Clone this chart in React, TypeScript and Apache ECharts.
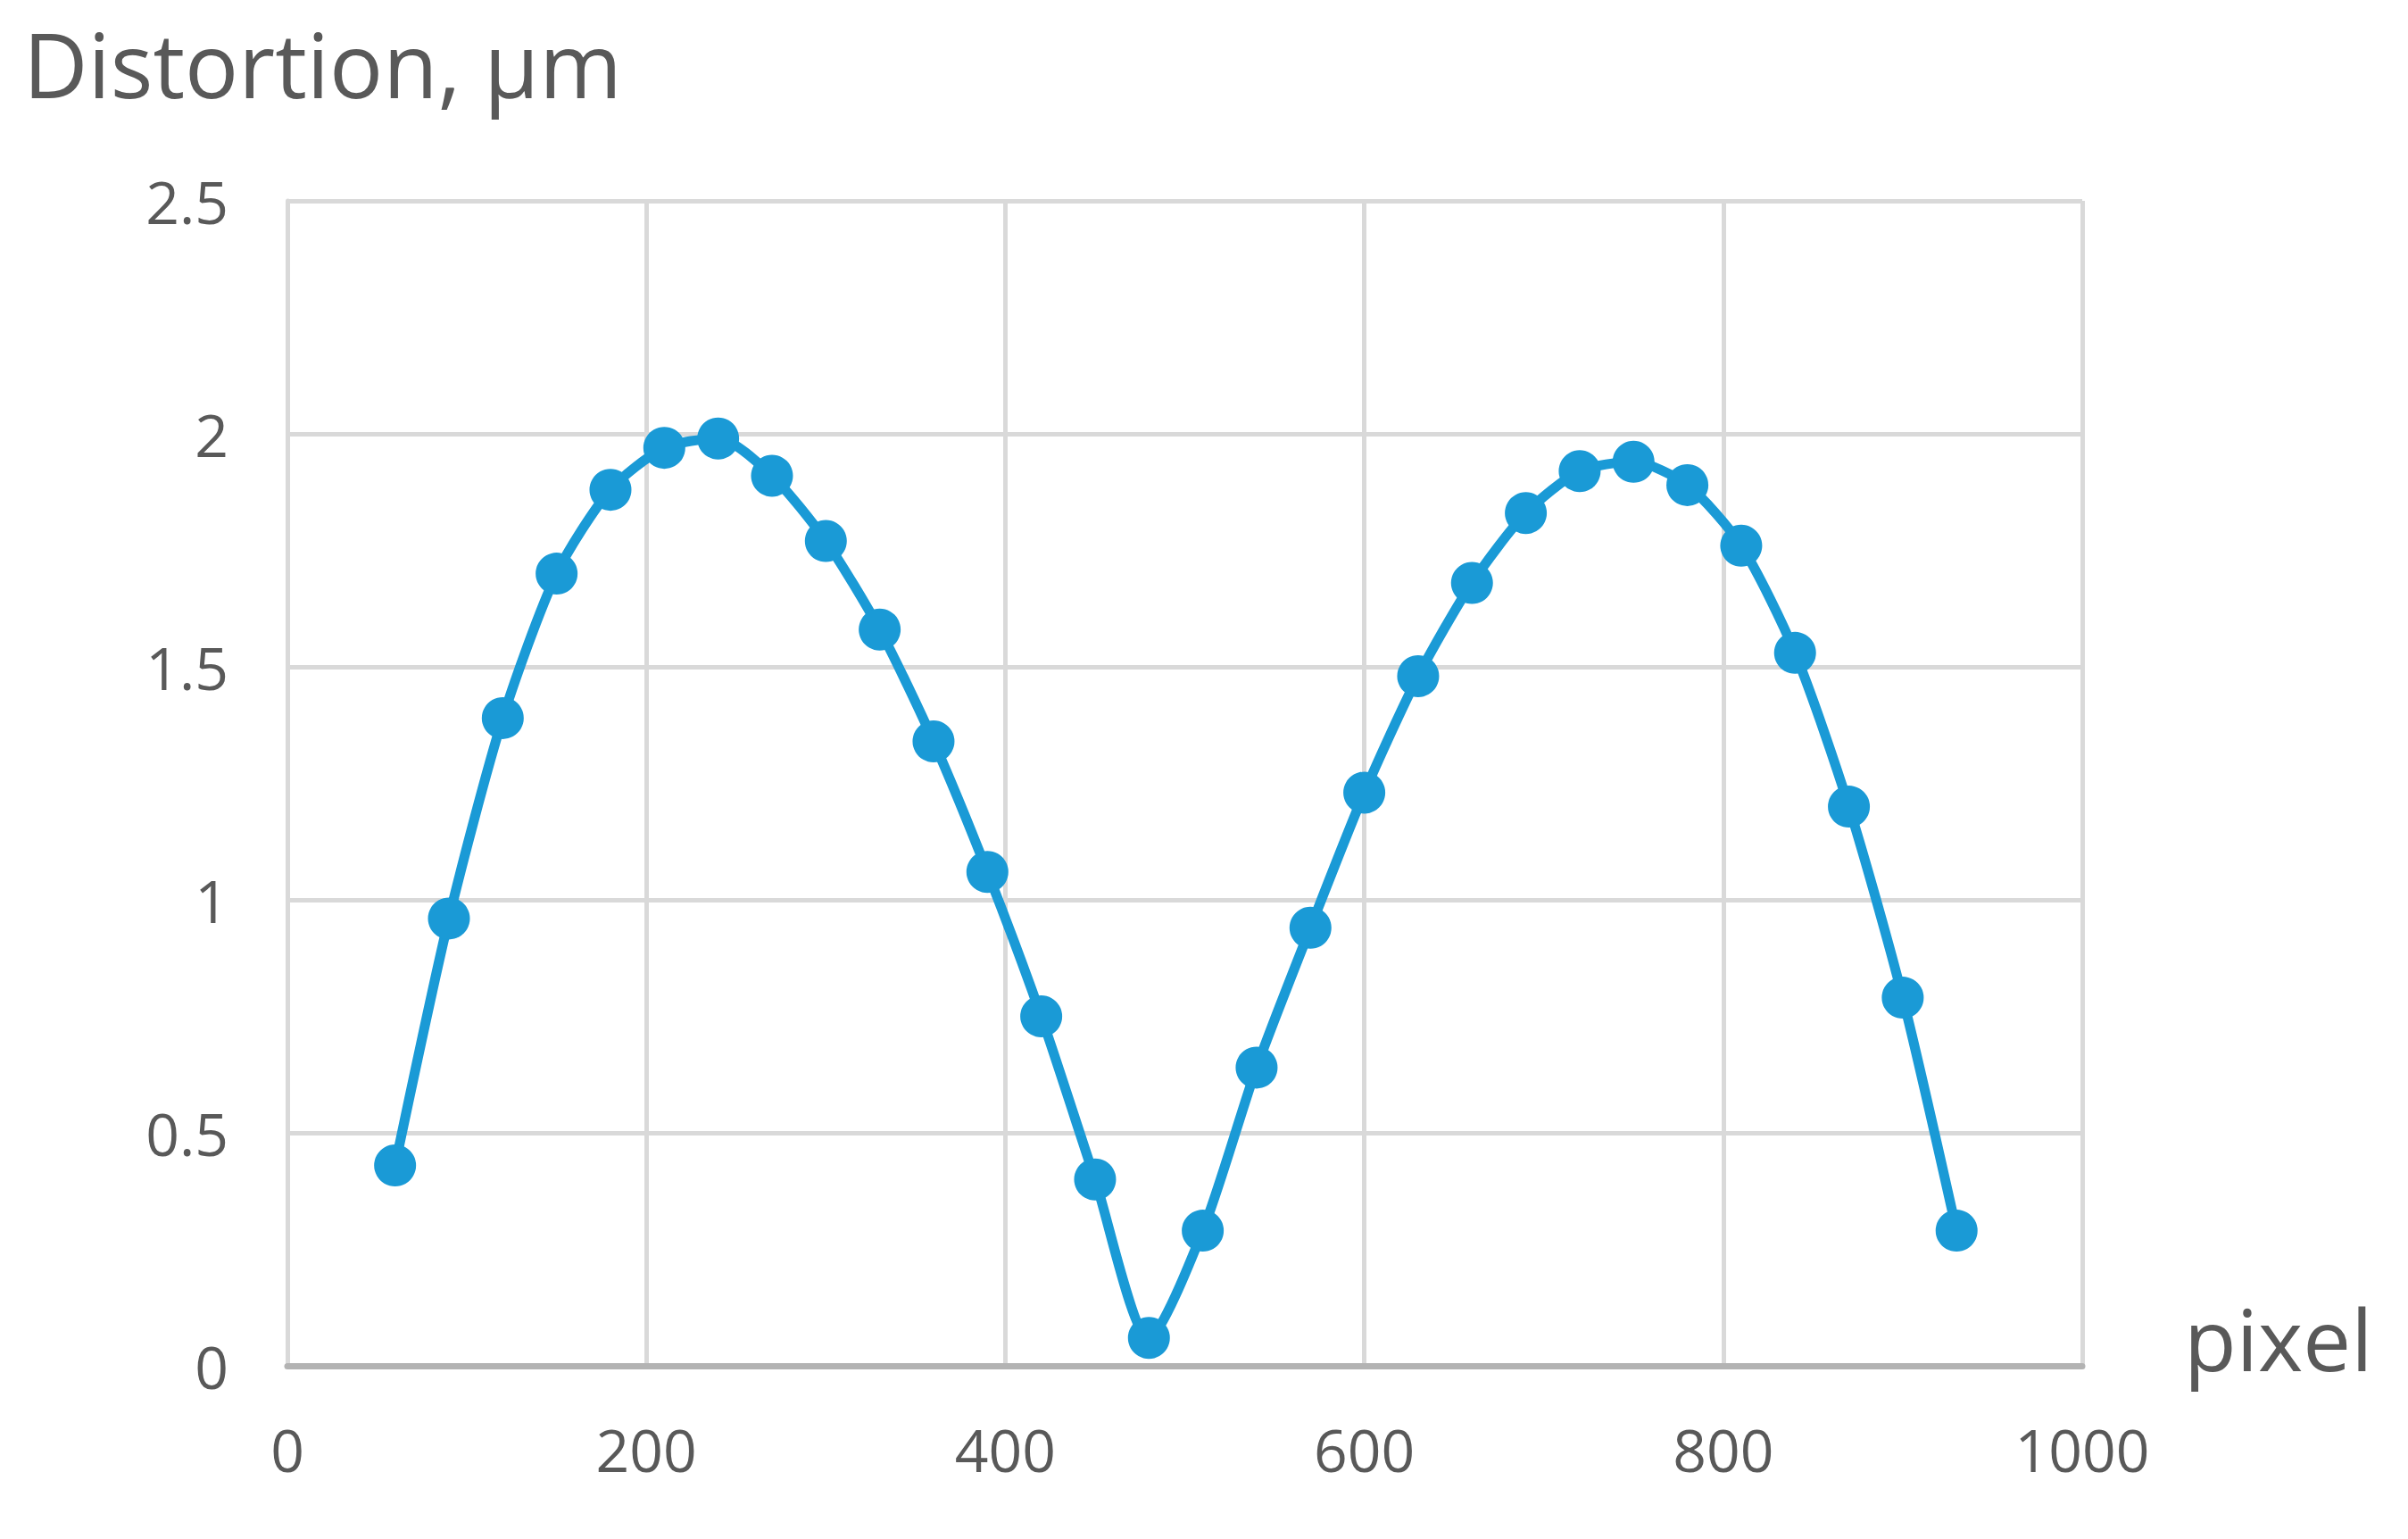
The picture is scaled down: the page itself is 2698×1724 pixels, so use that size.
import React, { useEffect, useRef } from "react";
import * as echarts from "echarts";

const pixels = [60, 90, 120, 150, 180, 210, 240, 270, 300, 330, 360, 390, 420, 450, 480, 510, 540, 570, 600, 630, 660, 690, 720, 750, 780, 810, 840, 870, 900, 930];
const distortion = [0.43, 0.96, 1.39, 1.70, 1.88, 1.97, 1.99, 1.91, 1.77, 1.58, 1.34, 1.06, 0.75, 0.40, 0.06, 0.29, 0.64, 0.94, 1.23, 1.48, 1.68, 1.83, 1.92, 1.94, 1.89, 1.76, 1.53, 1.20, 0.79, 0.29];
const xTicks = { min: 0, max: 1000, interval: 200 };
const yTicks = { min: 0, max: 2.5, interval: 0.5 };
const yTitle = "Distortion, µm";
const xTitle = "pixel";

const FONT = "'Open Sans', 'Noto Sans', sans-serif";
const TEXT = "#595959";
const BLUE = "#1a9ad6";

export default function App() {
  const ref = useRef<HTMLDivElement>(null);
  useEffect(() => {
    document.body.style.margin = "0";
    const chart = echarts.init(ref.current!, null, { renderer: "svg" });
    chart.setOption({
      animation: false,
      backgroundColor: "#ffffff",
      grid: { left: 322, right: 2698 - 2333, top: 225, bottom: 1724 - 1530, containLabel: false },
      xAxis: {
        type: "value",
        min: xTicks.min,
        max: xTicks.max,
        interval: xTicks.interval,
        axisLine: { show: true, lineStyle: { color: "#b3b3b3", width: 7 } },
        axisTick: { show: false },
        axisLabel: { color: TEXT, fontSize: 66, fontFamily: FONT, margin: 60, formatter: (v: number) => String(v) },
        splitLine: { show: true, lineStyle: { color: "#d9d9d9", width: 5 } },
      },
      yAxis: {
        type: "value",
        min: yTicks.min,
        max: yTicks.max,
        interval: yTicks.interval,
        axisLine: { show: true, lineStyle: { color: "#d9d9d9", width: 5 } },
        axisTick: { show: false },
        axisLabel: { color: TEXT, fontSize: 66, fontFamily: FONT, margin: 66 },
        splitLine: { show: true, lineStyle: { color: "#d9d9d9", width: 5 } },
      },
      graphic: [
        {
          type: "text",
          left: 26,
          top: 21,
          style: { text: yTitle, fill: TEXT, fontSize: 100, fontFamily: FONT },
        },
        {
          type: "text",
          left: 2447,
          top: 1450,
          style: { text: xTitle, fill: TEXT, fontSize: 96, fontFamily: FONT },
        },
      ],
      series: [
        {
          type: "line",
          data: pixels.map((p, i) => [p, distortion[i]]),
          smooth: 0.25,
          symbol: "circle",
          symbolSize: 47,
          lineStyle: { color: BLUE, width: 11 },
          itemStyle: { color: BLUE },
          z: 5,
        },
      ],
    });
    return () => chart.dispose();
  }, []);
  return <div ref={ref} style={{ width: 2698, height: 1724 }} />;
}
